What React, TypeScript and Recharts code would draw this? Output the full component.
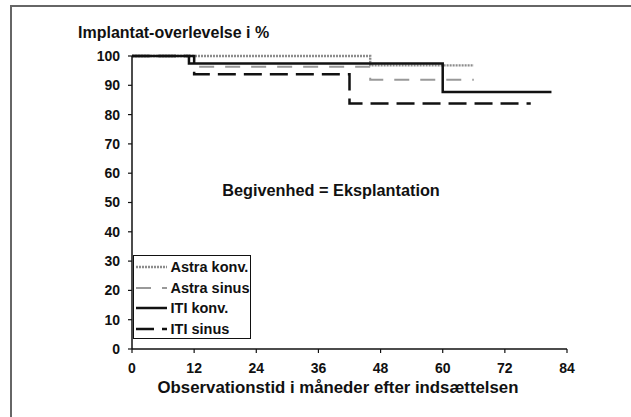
import { LineChart, Line, XAxis, YAxis } from 'recharts'

// months since insertion / survival in %
const astraKonvT = [0, 46, 66]
const astraKonvS = [100, 96.8, 96.8]
const astraSinusT = [0, 12, 46, 66]
const astraSinusS = [100, 96.3, 91.9, 91.9]
const itiKonvT = [0, 11, 60, 81]
const itiKonvS = [100, 97.4, 87.7, 87.7]
const itiSinusT = [0, 12, 42, 77]
const itiSinusS = [100, 93.8, 83.8, 83.8]

const xTicks = [0, 12, 24, 36, 48, 60, 72, 84]
const yTicks = [0, 10, 20, 30, 40, 50, 60, 70, 80, 90, 100]

const toRows = (t: number[], s: number[]) => t.map((m, i) => ({ t: m, s: s[i] }))

const SERIES = [
  { name: 'Astra konv.', data: toRows(astraKonvT, astraKonvS), stroke: '#8c8c8c', width: 2.4, dash: '2 1' },
  { name: 'Astra sinus', data: toRows(astraSinusT, astraSinusS), stroke: '#999', width: 2, dash: '15 11' },
  { name: 'ITI sinus', data: toRows(itiSinusT, itiSinusS), stroke: '#111', width: 2.5, dash: '18 8' },
  { name: 'ITI konv.', data: toRows(itiKonvT, itiKonvS), stroke: '#111', width: 2.5, dash: undefined },
]

const LEGEND_ORDER = ['Astra konv.', 'Astra sinus', 'ITI konv.', 'ITI sinus']

const FONT = '"Liberation Sans", Arial, sans-serif'

const ChartLegend = () => (
  <div
    style={{
      position: 'absolute',
      left: 133,
      top: 255,
      width: 116,
      height: 81,
      border: '1.5px solid #111',
      paddingTop: 1,
      background: 'white',
      fontFamily: FONT,
      fontWeight: 700,
      fontSize: 14.5,
      color: '#111',
    }}
  >
    {LEGEND_ORDER.map((name) => {
      const s = SERIES.find((x) => x.name === name)!
      return (
        <div key={name} style={{ height: 20.5, display: 'flex', alignItems: 'center' }}>
          <svg width={33} height={10} style={{ marginLeft: 1.5, marginRight: 2 }}>
            <line x1={0} y1={5} x2={31} y2={5} stroke={s.stroke} strokeWidth={s.width} strokeDasharray={s.dash} />
          </svg>
          <span style={{ lineHeight: 1 }}>{name}</span>
        </div>
      )
    })}
  </div>
)

const tickStyle = { fill: '#111', fontSize: 14, fontWeight: 700, fontFamily: FONT }

const App = () => {
  return (
    <div style={{ position: 'absolute', left: 0, top: 0, width: 631, height: 417, background: 'white', overflow: 'hidden' }}>
      <div style={{ position: 'absolute', left: 10, top: 5, width: 700, height: 500, borderTop: '2px solid #666', borderLeft: '2px solid #666' }} />
      <div
        style={{
          position: 'absolute',
          left: 78,
          top: 23,
          fontFamily: FONT,
          fontWeight: 700,
          fontSize: 16,
          color: '#111',
          whiteSpace: 'nowrap',
          lineHeight: '20px',
        }}
      >
        Implantat-overlevelse i %
      </div>
      <LineChart width={631} height={417} margin={{ top: 56, right: 64, bottom: 28, left: 0 }} style={{ position: 'absolute', left: 0, top: 0 }}>
        <XAxis
          type="number"
          dataKey="t"
          domain={[0, 84]}
          ticks={xTicks}
          interval={0}
          allowDuplicatedCategory={false}
          height={40}
          tickSize={4}
          tickMargin={10}
          tick={tickStyle}
          axisLine={{ stroke: '#111', strokeWidth: 1.5 }}
          tickLine={{ stroke: '#111', strokeWidth: 1.2 }}
        />
        <YAxis
          type="number"
          domain={[0, 100]}
          ticks={yTicks}
          interval={0}
          width={132}
          tickSize={4}
          tickMargin={8}
          tick={tickStyle}
          axisLine={{ stroke: '#111', strokeWidth: 1.5 }}
          tickLine={{ stroke: '#111', strokeWidth: 1.2 }}
        />
        {SERIES.map((s) => (
          <Line
            key={s.name}
            data={s.data}
            dataKey="s"
            name={s.name}
            type="stepAfter"
            stroke={s.stroke}
            strokeWidth={s.width}
            strokeDasharray={s.dash}
            dot={false}
            activeDot={false}
            isAnimationActive={false}
          />
        ))}
      </LineChart>
      <ChartLegend />
      <div
        style={{
          position: 'absolute',
          left: 331,
          top: 190,
          transform: 'translate(-50%, -50%)',
          fontFamily: FONT,
          fontWeight: 700,
          fontSize: 16.3,
          color: '#111',
          whiteSpace: 'nowrap',
        }}
      >
        Begivenhed = Eksplantation
      </div>
      <div
        style={{
          position: 'absolute',
          left: 338,
          top: 388,
          transform: 'translate(-50%, -50%)',
          fontFamily: FONT,
          fontWeight: 700,
          fontSize: 16.8,
          color: '#111',
          whiteSpace: 'nowrap',
        }}
      >
        Observationstid i måneder efter indsættelsen
      </div>
    </div>
  )
}

export default App
